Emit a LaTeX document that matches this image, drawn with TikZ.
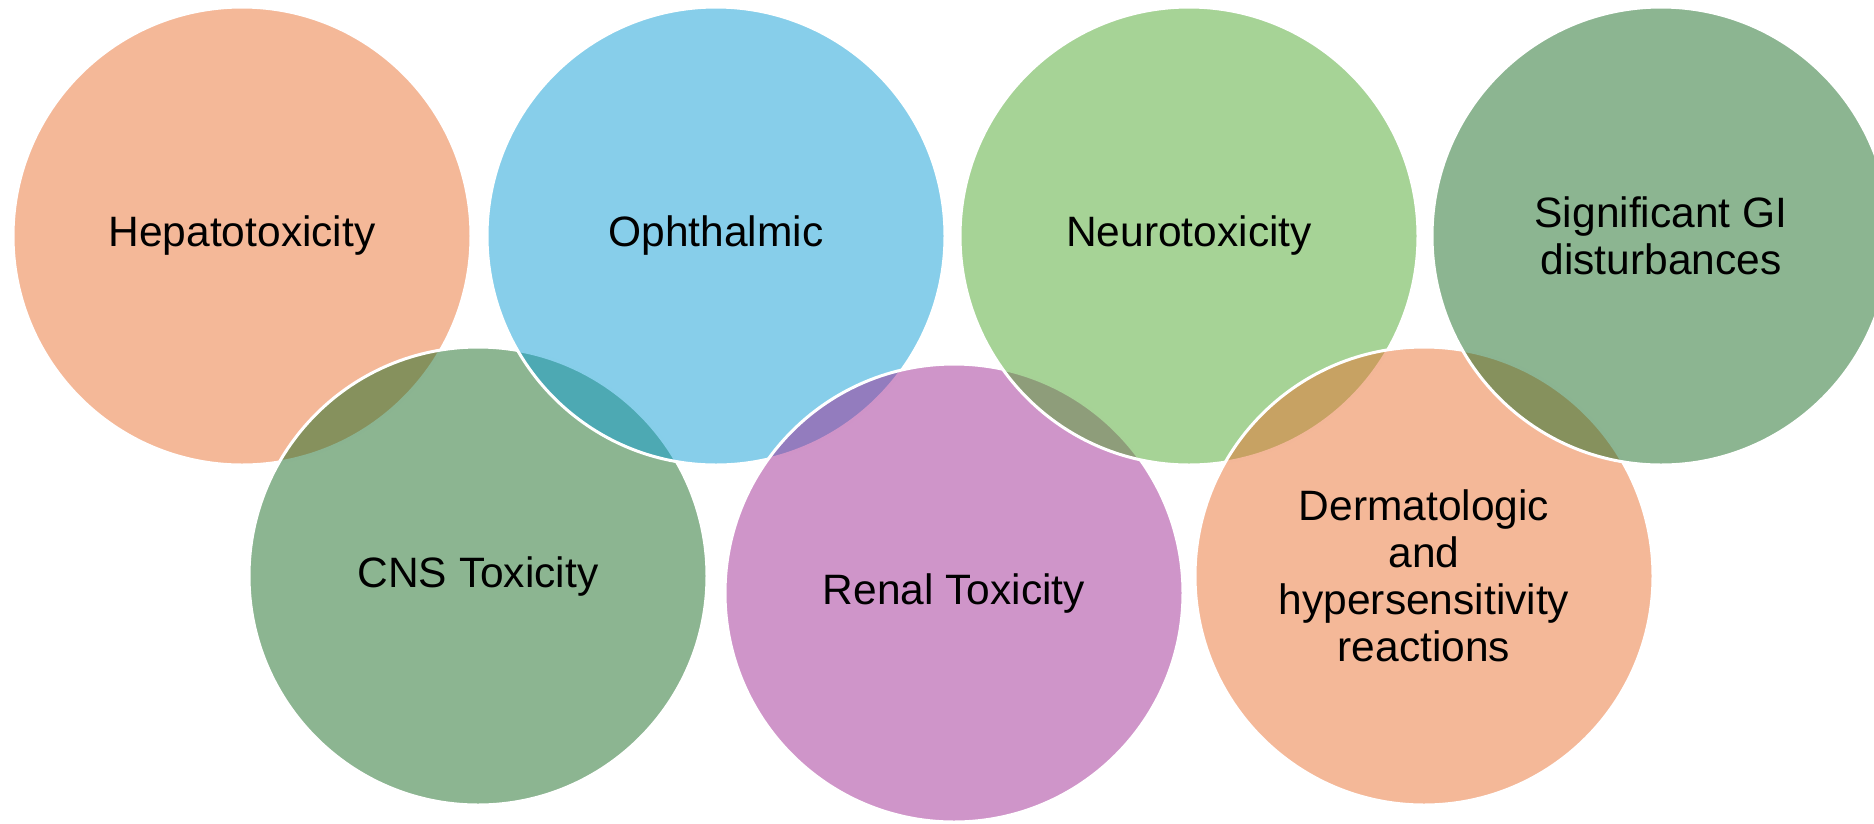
\documentclass[tikz,border=0pt]{standalone}
\usepackage{fontspec}
\setmainfont{Liberation Sans}
\definecolor{corange}{HTML}{E97132}
\definecolor{cblue}{HTML}{0F9ED5}
\definecolor{cdgreen}{HTML}{196B24}
\definecolor{clgreen}{HTML}{4EA72E}
\definecolor{cpurple}{HTML}{A02B93}
\tikzset{
  bubble/.style={circle, inner sep=0pt, minimum size=458pt, draw=white, line width=3pt,
    fill=#1, fill opacity=0.5, draw opacity=1, text opacity=1, text=black,
    align=center, font=\fontsize{42.5}{47}\selectfont}
}
\begin{document}
\begin{tikzpicture}[x=1pt,y=-1pt]
\useasboundingbox (0,0) rectangle (1874,823);
\node[bubble=corange]  (hep) at (242,236) {Hepatotoxicity};
\node[bubble=cdgreen]  (cns) at (478,576) {CNS Toxicity};
\node[bubble=cblue]    (oph) at (716,236) {Ophthalmic};
\node[bubble=cpurple]  (ren) at (954,593) {Renal Toxicity};
\node[bubble=clgreen]  (neu) at (1189,236) {Neurotoxicity};
\node[bubble=corange]  (der) at (1424,576) {Dermatologic\\and\\hypersensitivity\\reactions};
\node[bubble=cdgreen]  (gi)  at (1661,236) {Significant GI\\disturbances};
\end{tikzpicture}
\end{document}
